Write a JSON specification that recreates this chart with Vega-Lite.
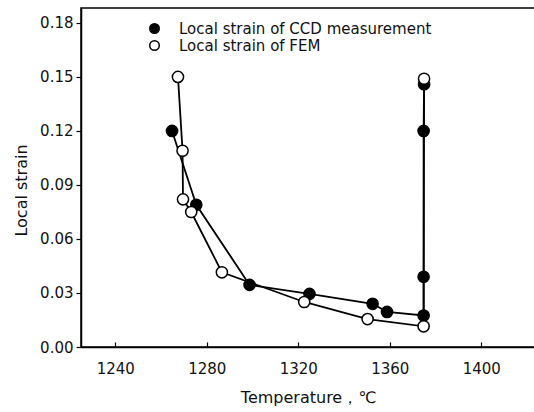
{
  "$schema": "https://vega.github.io/schema/vega-lite/v6.json",
  "width": 454,
  "height": 339,
  "autosize": {"type": "none"},
  "padding": {"left": 81, "top": 8, "right": 0, "bottom": 65},
  "background": "white",
  "config": {
    "font": "DejaVu Sans",
    "view": {"stroke": "black", "strokeWidth": 1.5},
    "axis": {"grid": false, "domainColor": "black", "tickColor": "black", "labelColor": "#111", "titleColor": "#111", "labelFontSize": 15, "titleFontSize": 16, "titleFontWeight": "normal", "domainWidth": 1.5, "tickWidth": 1.2, "labelFont": "DejaVu Sans", "titleFont": "DejaVu Sans"}
  },
  "data": {"values": [
    {"s": "Local strain of CCD measurement", "t": 1264.8, "v": 0.120, "o": 1},
    {"s": "Local strain of CCD measurement", "t": 1275.4, "v": 0.079, "o": 2},
    {"s": "Local strain of CCD measurement", "t": 1298.7, "v": 0.0345, "o": 3},
    {"s": "Local strain of CCD measurement", "t": 1324.9, "v": 0.0295, "o": 4},
    {"s": "Local strain of CCD measurement", "t": 1352.5, "v": 0.024, "o": 5},
    {"s": "Local strain of CCD measurement", "t": 1358.8, "v": 0.0195, "o": 6},
    {"s": "Local strain of CCD measurement", "t": 1374.8, "v": 0.0175, "o": 7},
    {"s": "Local strain of CCD measurement", "t": 1374.8, "v": 0.039, "o": 8},
    {"s": "Local strain of CCD measurement", "t": 1374.8, "v": 0.12, "o": 9},
    {"s": "Local strain of CCD measurement", "t": 1375.0, "v": 0.146, "o": 10},
    {"s": "Local strain of  FEM", "t": 1267.4, "v": 0.150, "o": 1},
    {"s": "Local strain of  FEM", "t": 1269.4, "v": 0.109, "o": 2},
    {"s": "Local strain of  FEM", "t": 1269.6, "v": 0.082, "o": 3},
    {"s": "Local strain of  FEM", "t": 1273.2, "v": 0.075, "o": 4},
    {"s": "Local strain of  FEM", "t": 1286.6, "v": 0.0415, "o": 5},
    {"s": "Local strain of  FEM", "t": 1322.6, "v": 0.025, "o": 6},
    {"s": "Local strain of  FEM", "t": 1350.3, "v": 0.0155, "o": 7},
    {"s": "Local strain of  FEM", "t": 1374.8, "v": 0.0115, "o": 8},
    {"s": "Local strain of  FEM", "t": 1375.0, "v": 0.149, "o": 9}
  ]},
  "encoding": {
    "x": {"field": "t", "type": "quantitative", "scale": {"domain": [1225, 1423.5], "nice": false, "zero": false},
      "axis": {"title": "Temperature，℃", "values": [1240, 1280, 1320, 1360, 1400], "format": "d", "tickSize": -5, "labelPadding": 19, "titlePadding": 13}},
    "y": {"field": "v", "type": "quantitative", "scale": {"domain": [0, 0.1883], "nice": false},
      "axis": {"title": "Local strain", "values": [0, 0.03, 0.06, 0.09, 0.12, 0.15, 0.18], "format": ".2f", "tickSize": 5, "labelPadding": 3, "titlePadding": 10, "titleY": 182}}
  },
  "layer": [
    {
      "mark": {"type": "line", "color": "black", "strokeWidth": 1.8},
      "encoding": {"detail": {"field": "s"}, "order": {"field": "o"}}
    },
    {
      "mark": {"type": "point", "filled": true, "stroke": "black", "strokeWidth": 1.5, "size": 125, "opacity": 1},
      "encoding": {
        "fill": {"field": "s", "type": "nominal", "scale": {"domain": ["Local strain of CCD measurement", "Local strain of  FEM"], "range": ["black", "white"]},
          "legend": {"title": null, "orient": "none", "legendX": 66, "legendY": 13, "symbolStrokeColor": "black", "symbolStrokeWidth": 1.5, "symbolSize": 90, "labelFontSize": 15, "labelFont": "DejaVu Sans", "labelColor": "#111", "labelOffset": 17, "labelLimit": 0, "rowPadding": 0, "padding": 0}}
      }
    }
  ]
}
